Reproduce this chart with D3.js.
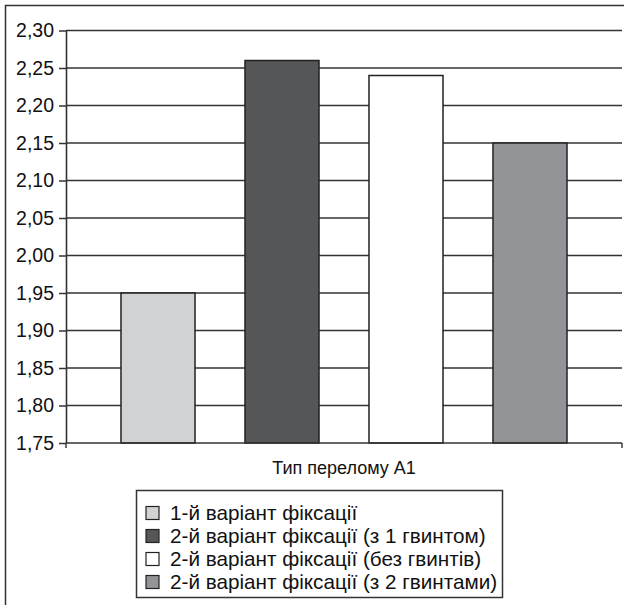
<!DOCTYPE html>
<html><head><meta charset="utf-8">
<script src="https://cdn.jsdelivr.net/npm/d3@7/dist/d3.min.js"></script>
<style>body{margin:0;background:#fff}svg{display:block;font-family:"Liberation Sans",Arial,sans-serif}</style>
</head><body>
<svg id="c" width="624" height="605"></svg>
<script>
const series = ["1-й варіант фіксації","2-й варіант фіксації (з 1 гвинтом)","2-й варіант фіксації (без гвинтів)","2-й варіант фіксації (з 2 гвинтами)"];
const values = [1.95, 2.26, 2.24, 2.15];
const colors = ["#d1d2d4","#555658","#ffffff","#939498"];
const yTicks = [1.75,1.80,1.85,1.90,1.95,2.00,2.05,2.10,2.15,2.20,2.25,2.30];
const category = "Тип перелому А1";

const svg = d3.select("#c");
const L=66, R=622, T=30.5, B=443;
const stroke="#333";

// outer border (extends beyond right/bottom)
svg.append("rect").attr("x",5.5).attr("y",5.5).attr("width",640).attr("height",640)
  .attr("fill","none").attr("stroke",stroke).attr("stroke-width",1.5);

const y = d3.scaleLinear().domain([1.75,2.30]).range([B,T]);
const x = d3.scaleBand().domain(series).range([L,R]).paddingInner(0.403).paddingOuter(0.4435);

// gridlines
svg.append("g").selectAll("line").data(yTicks.slice(1)).join("line")
  .attr("x1",L).attr("x2",R).attr("y1",d=>y(d)).attr("y2",d=>y(d))
  .attr("stroke",stroke).attr("stroke-width",1.5);

// bars
svg.append("g").selectAll("rect").data(values).join("rect")
  .attr("x",(d,i)=>x(series[i])).attr("width",x.bandwidth())
  .attr("y",d=>y(d)).attr("height",d=>B-y(d))
  .attr("fill",(d,i)=>colors[i]).attr("stroke","#222").attr("stroke-width",1.5);

// y axis
const fmt = d=>d3.format(".2f")(d).replace(".",",");
const ya = svg.append("g").attr("transform",`translate(${L},0)`)
  .call(d3.axisLeft(y).tickValues(yTicks).tickFormat(fmt).tickSize(7).tickSizeOuter(0).tickPadding(5));
ya.select(".domain").attr("stroke",stroke).attr("stroke-width",1.6);
ya.selectAll(".tick line").attr("stroke",stroke).attr("stroke-width",1.5);
ya.selectAll("text").attr("font-size",19.5).attr("fill","#111").attr("font-family","Liberation Sans, Arial, sans-serif");

// x axis line
svg.append("line").attr("x1",L).attr("x2",R).attr("y1",B).attr("y2",B).attr("stroke",stroke).attr("stroke-width",1.6);
svg.append("g").selectAll("line").data([L,R]).join("line")
  .attr("x1",d=>d).attr("x2",d=>d).attr("y1",B).attr("y2",B+5).attr("stroke",stroke).attr("stroke-width",1.4);

svg.append("text").attr("x",(L+R)/2).attr("y",474).attr("text-anchor","middle")
  .attr("font-size",18).attr("fill","#111").text(category);

// legend
svg.append("rect").attr("x",136.5).attr("y",490.5).attr("width",366).attr("height",107)
  .attr("fill","#fff").attr("stroke",stroke).attr("stroke-width",1.5);
const lg = svg.append("g").selectAll("g").data(series).join("g")
  .attr("transform",(d,i)=>`translate(146,${513+i*23})`);
lg.append("rect").attr("x",0).attr("y",-6.5).attr("width",13).attr("height",13)
  .attr("fill",(d,i)=>colors[i]).attr("stroke","#222").attr("stroke-width",1.2);
lg.append("text").attr("x",24).attr("y",0).attr("dy","0.35em")
  .attr("font-size",20.7).attr("fill","#111").text(d=>d);
</script>
</body></html>
